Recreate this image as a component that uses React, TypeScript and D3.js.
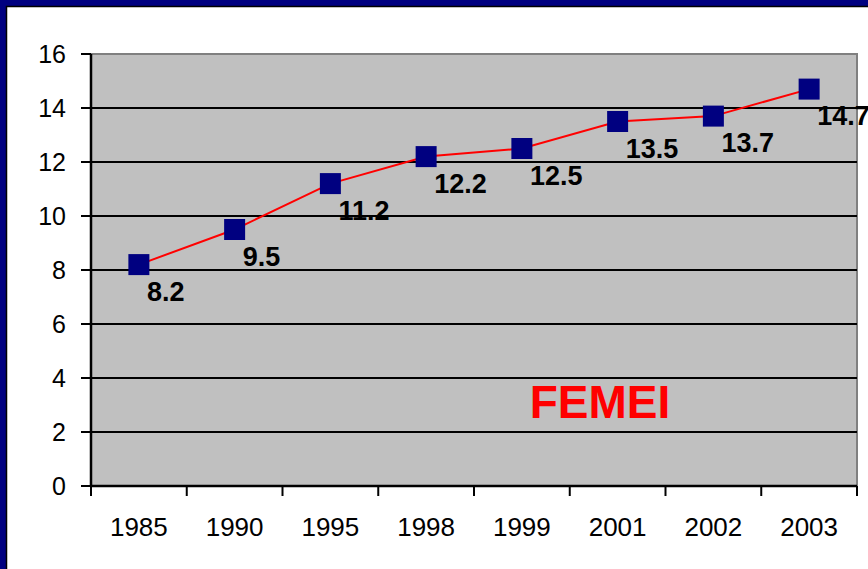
import React from "react";
import * as d3 from "d3";

const categories = ["1985", "1990", "1995", "1998", "1999", "2001", "2002", "2003"];
const values = [8.2, 9.5, 11.2, 12.2, 12.5, 13.5, 13.7, 14.7];
const yTicks = [0, 2, 4, 6, 8, 10, 12, 14, 16];
const seriesTitle = "FEMEI";

const W = 868;
const H = 569;
const plot = { left: 91, right: 857, top: 54, bottom: 486 };

export default function App() {
  const x = d3.scaleBand<string>().domain(categories).range([plot.left, plot.right]).padding(0);
  const y = d3.scaleLinear().domain([0, 16]).range([plot.bottom, plot.top]);
  const cx = (c: string) => (x(c) as number) + x.bandwidth() / 2;
  const pts: [number, number][] = categories.map((c, i) => [cx(c), y(values[i])]);
  const line = d3.line<[number, number]>().x((d) => d[0]).y((d) => d[1]);
  const boundaries = categories.map((c) => x(c) as number).concat([plot.right]);
  const font = "Arial, 'Liberation Sans', Helvetica, sans-serif";
  const ms = 21;

  return (
    <svg
      width={W}
      height={H}
      style={{ position: "absolute", left: 0, top: 0, display: "block" }}
      fontFamily={font}
    >
      <rect x={0} y={0} width={W} height={H} fill="#000080" />
      <rect x={6.5} y={6.5} width={W + 20} height={H + 20} fill="#ffffff" stroke="#000000" strokeWidth={1.5} />
      {/* plot area */}
      <rect
        x={plot.left}
        y={plot.top}
        width={plot.right - plot.left}
        height={plot.bottom - plot.top}
        fill="#C0C0C0"
        stroke="#808080"
        strokeWidth={2}
      />
      {/* gridlines */}
      {yTicks.filter((t) => t > 0 && t < 16).map((t) => (
        <line key={"g" + t} x1={plot.left} x2={plot.right} y1={y(t)} y2={y(t)} stroke="#000" strokeWidth={2} />
      ))}
      {/* axes */}
      <line x1={plot.left} x2={plot.left} y1={plot.top} y2={plot.bottom} stroke="#000" strokeWidth={2.5} />
      <line x1={plot.left} x2={plot.right} y1={plot.bottom} y2={plot.bottom} stroke="#000" strokeWidth={2.5} />
      {yTicks.map((t) => (
        <g key={"yt" + t}>
          <line x1={plot.left - 10} x2={plot.left} y1={y(t)} y2={y(t)} stroke="#000" strokeWidth={2} />
          <text x={66} y={y(t)} dy="0.36em" textAnchor="end" fontSize={25} fill="#000">
            {t}
          </text>
        </g>
      ))}
      {boundaries.map((b, i) => (
        <line key={"xt" + i} x1={b} x2={b} y1={plot.bottom} y2={plot.bottom + 10} stroke="#000" strokeWidth={2} />
      ))}
      {categories.map((c) => (
        <text key={"xl" + c} x={cx(c)} y={plot.bottom + 50} textAnchor="middle" fontSize={26} fill="#000">
          {c}
        </text>
      ))}
      {/* series */}
      <path d={line(pts) || ""} fill="none" stroke="#FF0000" strokeWidth={2} />
      {pts.map((p, i) => (
        <rect key={"m" + i} x={p[0] - ms / 2} y={p[1] - ms / 2} width={ms} height={ms} fill="#000080" />
      ))}
      {pts.map((p, i) => (
        <text key={"dl" + i} x={p[0] + 8} y={p[1] + 36} fontSize={27} fontWeight="bold" fill="#000">
          {values[i]}
        </text>
      ))}
      <text x={600} y={418} textAnchor="middle" fontSize={46} fontWeight="bold" fill="#FF0000">
        {seriesTitle}
      </text>
    </svg>
  );
}
